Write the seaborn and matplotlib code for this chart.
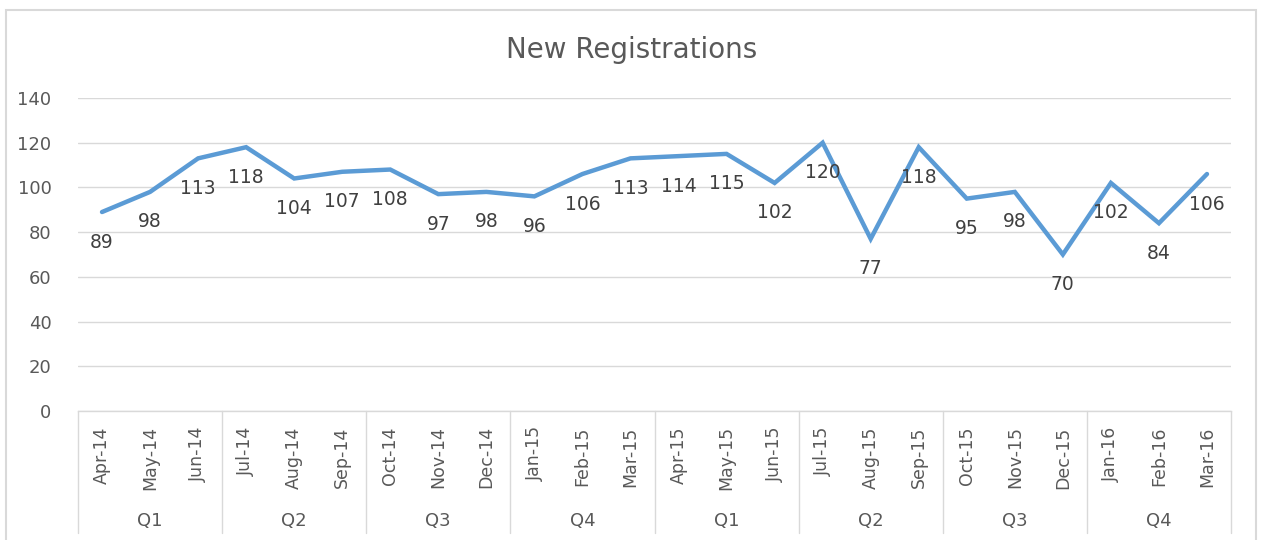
import matplotlib
matplotlib.use("Agg")
import matplotlib.pyplot as plt
import matplotlib.transforms as mtransforms
from matplotlib.patches import Rectangle
from matplotlib.lines import Line2D
import seaborn as sns
import pandas as pd

months = ["Apr-14", "May-14", "Jun-14", "Jul-14", "Aug-14", "Sep-14",
          "Oct-14", "Nov-14", "Dec-14", "Jan-15", "Feb-15", "Mar-15",
          "Apr-15", "May-15", "Jun-15", "Jul-15", "Aug-15", "Sep-15",
          "Oct-15", "Nov-15", "Dec-15", "Jan-16", "Feb-16", "Mar-16"]
registrations = [89, 98, 113, 118, 104, 107, 108, 97, 98, 96, 106, 113,
                 114, 115, 102, 120, 77, 118, 95, 98, 70, 102, 84, 106]
quarters = ["Q1", "Q2", "Q3", "Q4", "Q1", "Q2", "Q3", "Q4"]
y_ticks = [0, 20, 40, 60, 80, 100, 120, 140]
title = "New Registrations"

sns.set_theme(style="white")
plt.rcParams["font.family"] = ["DejaVu Sans"]

GRID = "#D9D9D9"
TXT = "#595959"
LINE = "#5B9BD5"

fig = plt.figure(figsize=(12.62, 5.4), dpi=100)
W, H = 1262, 540
ax = fig.add_axes([78 / W, 1 - 411 / H, (1231 - 78) / W, (411 - 98) / H])

df = pd.DataFrame({"month": months, "value": registrations})
sns.lineplot(data=df, x="month", y="value", sort=False, ax=ax,
             color=LINE, linewidth=3.2, solid_joinstyle="miter")

ax.set_xlim(-0.5, len(months) - 0.5)
ax.set_ylim(y_ticks[0], y_ticks[-1])
ax.set_yticks(y_ticks)
ax.set_yticklabels([str(t) for t in y_ticks], fontsize=13, color=TXT)
ax.tick_params(axis="y", length=0, pad=19)
ax.set_xticks(range(len(months)))
ax.set_xticklabels(months, rotation=90, fontsize=12.5, color=TXT, va="top", ha="center")
ax.tick_params(axis="x", length=0, pad=11)
ax.set_xlabel("")
ax.set_ylabel("")
ax.grid(axis="y", color=GRID, linewidth=1)
ax.grid(axis="x", visible=False)
for s in ["top", "left", "right"]:
    ax.spines[s].set_visible(False)
ax.spines["bottom"].set_color(GRID)
ax.spines["bottom"].set_linewidth(1)

# data labels below points
for i, v in enumerate(registrations):
    ax.annotate(str(v), (i, v), xytext=(0, -30), textcoords="offset pixels",
                ha="center", va="center", fontsize=13.5, color="#404040")

# multi-level category axis: separators and quarter labels
trans = mtransforms.blended_transform_factory(ax.transData, ax.transAxes)
bottom_ax = -(533 - 411) / (411 - 98)
for q in range(len(quarters) + 1):
    xpos = q * 3 - 0.5
    ax.add_line(Line2D([xpos, xpos], [0, bottom_ax], transform=trans,
                       color=GRID, linewidth=1, clip_on=False))
qlab_y = -(521 - 411) / (411 - 98)
for q, lab in enumerate(quarters):
    ax.text(q * 3 + 1, qlab_y, lab, transform=trans, ha="center", va="center",
            fontsize=13, color=TXT)

fig.text(632 / W, 1 - 50 / H, title, ha="center", va="center",
         fontsize=20, color=TXT)

# chart frame
fig.patches.append(Rectangle((6 / W, -0.05), (1256 - 6) / W, 1.05 - 10 / H,
                             transform=fig.transFigure, fill=False,
                             edgecolor=GRID, linewidth=1.5))

fig.savefig("out.png", dpi=100, facecolor="white")
